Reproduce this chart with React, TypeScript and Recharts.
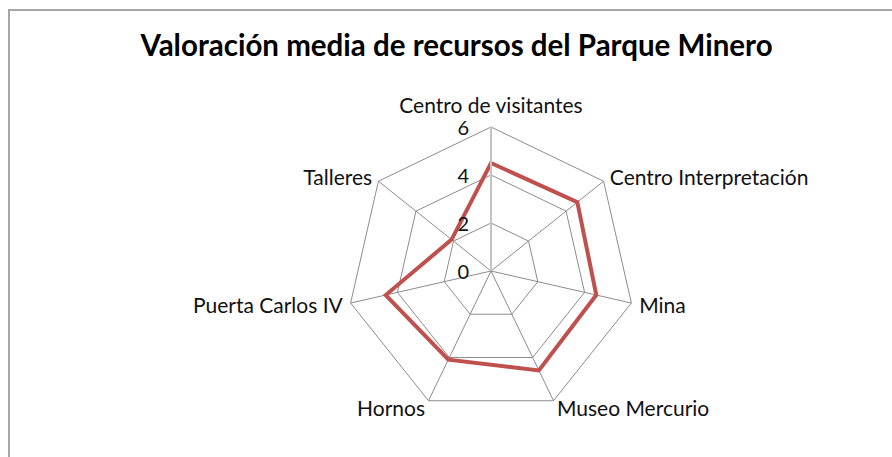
import React from 'react';
import { RadarChart, Radar, PolarGrid, PolarAngleAxis, PolarRadiusAxis } from 'recharts';

const categories = [
  'Centro de visitantes',
  'Centro Interpretación',
  'Mina',
  'Museo Mercurio',
  'Hornos',
  'Puerta Carlos IV',
  'Talleres',
];
const ratings = [4.5, 4.6, 4.5, 4.6, 4.1, 4.5, 2.1];
const radiusTicks = [0, 2, 4, 6];

const data = categories.map((name, i) => ({ name, value: ratings[i] }));

const CX = 491;
const CY = 271;
const FONT = 'Lato, "Open Sans", sans-serif';

const AngleTick = (props: any) => {
  const { x, y, payload } = props;
  const dx = x - CX;
  let anchor: 'start' | 'middle' | 'end' = 'middle';
  if (dx > 5) anchor = 'start';
  else if (dx < -5) anchor = 'end';
  const isTop = Math.abs(dx) <= 5;
  return (
    <text
      x={x}
      y={isTop ? y - 6 : y}
      textAnchor={anchor}
      dominantBaseline={isTop ? 'auto' : 'central'}
      fontFamily={FONT}
      fontSize={21}
      fill="#111"
    >
      {payload.value}
    </text>
  );
};

const RadiusTick = (props: any) => {
  const { x, y, payload } = props;
  return (
    <text
      x={x - 22}
      y={y}
      textAnchor="end"
      dominantBaseline="central"
      fontFamily={FONT}
      fontSize={20}
      fill="#111"
    >
      {payload.value}
    </text>
  );
};

export default function App() {
  return (
    <div style={{ position: 'absolute', left: 0, top: 0, width: 892, height: 457, background: '#fff', overflow: 'hidden' }}>
      <div
        style={{
          position: 'absolute',
          left: 8,
          top: 9,
          width: 920,
          height: 500,
          border: '2px solid #a6a6a6',
          boxSizing: 'border-box',
        }}
      />
      <div
        style={{
          position: 'absolute',
          left: 0,
          top: 27,
          width: 913,
          textAlign: 'center',
          fontFamily: FONT,
          fontWeight: 700,
          fontSize: 29.5,
          color: '#000',
        }}
      >
        Valoración media de recursos del Parque Minero
      </div>
      <div style={{ position: 'absolute', left: 0, top: 0 }}>
        <RadarChart width={892} height={457} data={data} cx={CX} cy={CY} outerRadius={144}>
          <PolarGrid gridType="polygon" stroke="#8c8c8c" strokeWidth={1} />
          <PolarAngleAxis dataKey="name" tick={<AngleTick />} tickLine={false} axisLine={false} />
          <PolarRadiusAxis
            angle={90}
            domain={[0, 6]}
            ticks={radiusTicks}
            tick={<RadiusTick />}
            tickLine={false}
            axisLine={{ stroke: '#c4c4c4', strokeWidth: 2 }}
          />
          <Radar
            dataKey="value"
            stroke="#c0504d"
            strokeWidth={4}
            fill="none"
            fillOpacity={0}
            dot={false}
            isAnimationActive={false}
          />
        </RadarChart>
      </div>
    </div>
  );
}
